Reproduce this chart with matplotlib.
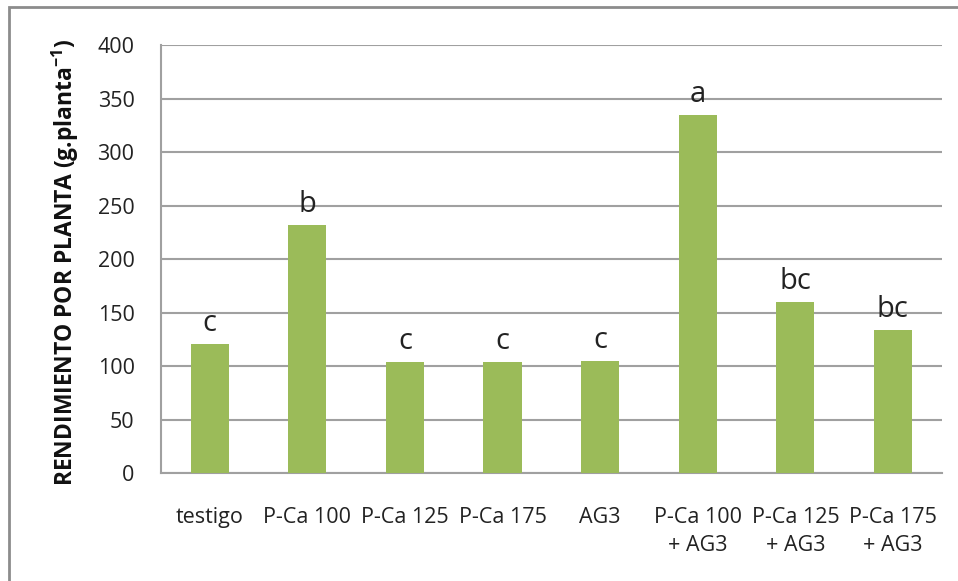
import matplotlib
matplotlib.use("Agg")
import matplotlib.pyplot as plt
from matplotlib.patches import Rectangle

plt.rcParams['font.family'] = ['Open Sans', 'DejaVu Sans']
plt.rcParams['mathtext.fontset'] = 'custom'
plt.rcParams['mathtext.rm'] = 'Open Sans'
plt.rcParams['mathtext.bf'] = 'Open Sans:bold'
plt.rcParams['mathtext.default'] = 'regular'

categories = ["testigo", "P-Ca 100", "P-Ca 125", "P-Ca 175", "AG3",
              "P-Ca 100\n+ AG3", "P-Ca 125\n+ AG3", "P-Ca 175\n+ AG3"]
yield_per_plant = [121, 232, 104, 104, 105, 335, 160, 134]
groups = ["c", "b", "c", "c", "c", "a", "bc", "bc"]
y_ticks = [0, 50, 100, 150, 200, 250, 300, 350, 400]

bar_color = "#9BBB59"
grid_color = "#A0A0A0"

fig = plt.figure(figsize=(9.58, 5.81), dpi=100)
ax = fig.add_axes([0.168, 0.1854, 0.815, 0.737])

x = range(len(categories))
ax.bar(x, yield_per_plant, width=0.39, color=bar_color, zorder=3)

for xi, v, g in zip(x, yield_per_plant, groups):
    ax.annotate(g, (xi, v), xytext=(0, 4), textcoords="offset points",
                ha="center", va="bottom", fontsize=21, color="#222222")

ax.set_xlim(-0.5, len(categories) - 0.5)
ax.set_ylim(0, 400)
ax.set_yticks(y_ticks)
ax.set_xticks(list(x))
ax.set_xticklabels(categories, fontsize=15.5, linespacing=1.45, va="top")
ax.tick_params(axis="y", labelsize=15.5, length=0, pad=19, colors="#222222")
ax.tick_params(axis="x", length=0, pad=24, colors="#222222")

ax.yaxis.grid(True, color=grid_color, linewidth=1.5, zorder=0)
ax.set_axisbelow(True)
for side in ["top", "right"]:
    ax.spines[side].set_visible(False)
for side in ["left", "bottom"]:
    ax.spines[side].set_color(grid_color)
    ax.spines[side].set_linewidth(1.5)

fig.text(0.068, 0.548, r"RENDIMIENTO POR PLANTA (g.planta$^{-1}$)",
         rotation=90, ha="center", va="center", fontsize=16.5,
         fontweight="bold", color="#111111")

# chart frame
fig.patches.append(Rectangle((9 / 958, -0.1), 1.2, 1.1 - 7 / 581,
                             transform=fig.transFigure, fill=False,
                             edgecolor="#8C8C8C", linewidth=2))

fig.savefig("out.png", dpi=100)
